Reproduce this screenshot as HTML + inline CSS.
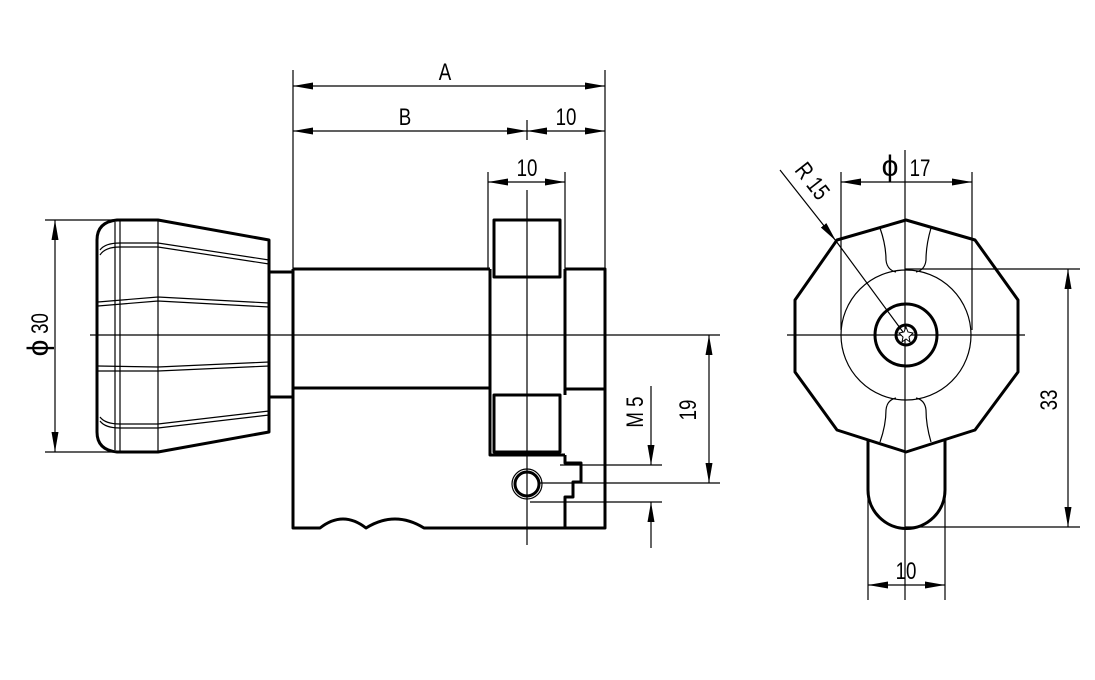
<!DOCTYPE html>
<html><head><meta charset="utf-8"><style>
html,body{margin:0;padding:0;background:#fff;width:1095px;height:680px;overflow:hidden}
svg{display:block}
text{font-family:"Liberation Sans Narrow","Liberation Sans",sans-serif;font-size:24px;fill:#000}
</style></head><body>
<svg width="1095" height="680" viewBox="0 0 1095 680" xmlns="http://www.w3.org/2000/svg">
<defs>
<marker id="ar" viewBox="0 0 20 7" refX="20" refY="3.5" markerWidth="20" markerHeight="7" markerUnits="userSpaceOnUse" orient="auto-start-reverse"><path d="M0,0 L20,3.5 L0,7 z" fill="#000"/></marker>
</defs>
<g stroke="#000" stroke-width="1.2" fill="none">
<line x1="90" y1="335" x2="720" y2="335"/>
<line x1="527" y1="190" x2="527" y2="545"/>
<line x1="293" y1="70" x2="293" y2="269"/>
<line x1="605" y1="70" x2="605" y2="269"/>
<line x1="527" y1="120" x2="527" y2="140"/>
<line x1="488" y1="172" x2="488" y2="269"/>
<line x1="565" y1="172" x2="565" y2="269"/>
<line x1="45" y1="220" x2="117" y2="220"/>
<line x1="45" y1="452" x2="117" y2="452"/>
<line x1="540" y1="483" x2="720" y2="483"/>
<line x1="560" y1="465" x2="662" y2="465"/>
<line x1="530" y1="502" x2="662" y2="502"/>
<line x1="293" y1="86" x2="605" y2="86" marker-start="url(#ar)" marker-end="url(#ar)"/>
<line x1="293" y1="131" x2="527" y2="131" marker-start="url(#ar)" marker-end="url(#ar)"/>
<line x1="527" y1="131" x2="605" y2="131" marker-start="url(#ar)" marker-end="url(#ar)"/>
<line x1="488" y1="182" x2="565" y2="182" marker-start="url(#ar)" marker-end="url(#ar)"/>
<line x1="55" y1="220" x2="55" y2="452" marker-start="url(#ar)" marker-end="url(#ar)"/>
<line x1="709" y1="335" x2="709" y2="483" marker-start="url(#ar)" marker-end="url(#ar)"/>
<line x1="651" y1="386" x2="651" y2="465" marker-end="url(#ar)"/>
<line x1="651" y1="548" x2="651" y2="502" marker-end="url(#ar)"/>
<line x1="115" y1="222" x2="115" y2="450"/>
<line x1="120" y1="221" x2="120" y2="451"/>
<line x1="158" y1="220" x2="158" y2="452"/>
<path d="M100,250 Q105,243 120,243 L158,243 L269,260 M100,255 Q105,247 120,247 L158,247 L269,264"/>
<path d="M98,302 L158,297 L269,303 M98,306 L158,301 L269,307"/>
<path d="M98,366 L158,367 L269,362 M98,371 L158,371 L269,366"/>
<path d="M100,417 Q105,424 120,424 L158,424 L269,411 M100,421 Q105,428 120,428 L158,428 L269,415"/>
<circle cx="527" cy="484" r="15"/>
</g>
<g stroke="#000" stroke-width="3" fill="none" stroke-linejoin="round">
<path d="M117,220 L158,220 L269,240 L269,432 L158,452 L117,452 Q97,450 97,432 L97,240 Q97,222 117,220 Z"/>
<path d="M269,272 L293,272 M269,397 L293,397"/>
<path d="M293,269 L490,269 M293,269 L293,528 L320,528 Q343,510 366,528 Q395,510 424,528 L582,528"/>
<line x1="293" y1="388" x2="490" y2="388"/>
<path d="M490,269 L490,455 L565,455 M565,269 L605,269 L605,528 L582,528 M565,269 L565,395"/>
<line x1="565" y1="389" x2="605" y2="389"/>
<rect x="494" y="220" width="66" height="57"/>
<rect x="494" y="395" width="66" height="57"/>
<path d="M565,455 L565,463 L581,463 L581,482 L573,482 L573,497 L565,497 L565,528"/>
<circle cx="527" cy="484" r="12"/>
</g>
<g stroke="#000" stroke-width="1.2" fill="none">
<line x1="787" y1="335" x2="1025" y2="335"/>
<line x1="905" y1="150" x2="905" y2="600"/>
<line x1="841" y1="172" x2="841" y2="330"/>
<line x1="972" y1="172" x2="972" y2="330"/>
<line x1="905" y1="269" x2="1080" y2="269"/>
<line x1="905" y1="527" x2="1080" y2="527"/>
<line x1="868" y1="440" x2="868" y2="600"/>
<line x1="945" y1="440" x2="945" y2="600"/>
<line x1="841" y1="182" x2="972" y2="182" marker-start="url(#ar)" marker-end="url(#ar)"/>
<line x1="1068" y1="269" x2="1068" y2="527" marker-start="url(#ar)" marker-end="url(#ar)"/>
<line x1="868" y1="585" x2="945" y2="585" marker-start="url(#ar)" marker-end="url(#ar)"/>
<line x1="780" y1="170" x2="836" y2="241" marker-end="url(#ar)"/>
<line x1="836" y1="241" x2="903" y2="332"/>
<path d="M880,228 Q886,245 886,260 Q887,270 896,272 M931,228 Q926,245 926,260 Q925,270 916,272"/>
<path d="M880,442 Q886,425 886,410 Q887,400 896,398 M931,442 Q926,425 926,410 Q925,400 916,398"/>
<circle cx="906" cy="335" r="65"/>
</g>
<g stroke="#000" stroke-width="3" fill="none" stroke-linejoin="round">
<path d="M906,220 L975,240 L1018,300 L1018,372 L975,430 L906,452 L837,430 L795,372 L795,300 L837,240 Z"/>
<circle cx="906" cy="335" r="31"/>
<circle cx="906" cy="335" r="10"/>
<path d="M868,440 L868,490 A38.5,38.5 0 0 0 945,490 L945,440"/>
</g>
<path d="M906,327 L908,332 L913,333 L909,337 L910,342 L906,339 L902,342 L903,337 L899,333 L904,332 Z" fill="#fff" stroke="#000" stroke-width="1"/>
<g transform="translate(445,80) scale(0.78,1)"><text text-anchor="middle">A</text></g>
<g transform="translate(405,125) scale(0.78,1)"><text text-anchor="middle">B</text></g>
<g transform="translate(566,125) scale(0.78,1)"><text text-anchor="middle">10</text></g>
<g transform="translate(527,176) scale(0.78,1)"><text text-anchor="middle">10</text></g>
<g transform="translate(906,579) scale(0.78,1)"><text text-anchor="middle">10</text></g>
<g transform="translate(890,176) scale(1,1)"><text text-anchor="middle" style="font-size:30px">ϕ</text></g>
<g transform="translate(920,176) scale(0.78,1)"><text text-anchor="middle">17</text></g>
<g transform="translate(48,336) rotate(-90)"><text x="-12" text-anchor="middle" style="font-size:30px">ϕ</text><text x="16" transform="scale(0.78,1)" text-anchor="middle">30</text></g>
<g transform="translate(696,410) rotate(-90) scale(0.78,1)"><text text-anchor="middle">19</text></g>
<g transform="translate(643,412) rotate(-90) scale(0.78,1)"><text text-anchor="middle">M 5</text></g>
<g transform="translate(1057,400) rotate(-90) scale(0.78,1)"><text text-anchor="middle">33</text></g>
<g transform="translate(806,186) rotate(52) scale(0.78,1)"><text text-anchor="middle">R 15</text></g>
</svg>
</body></html>
